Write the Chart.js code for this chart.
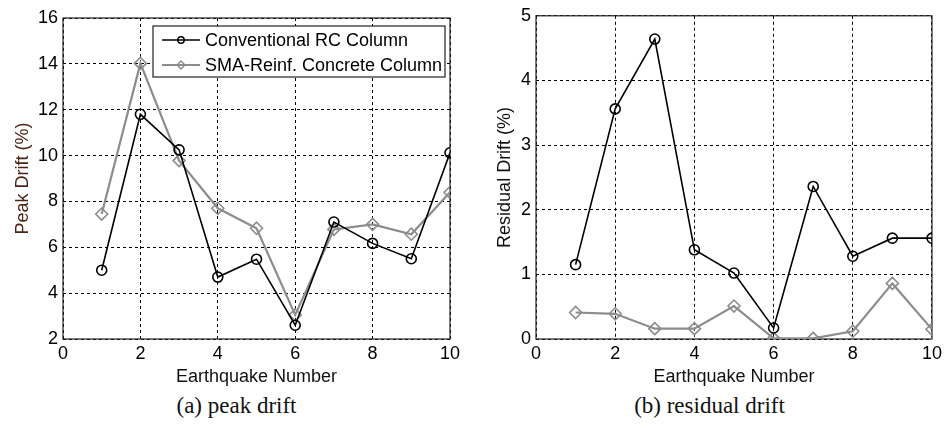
<!DOCTYPE html>
<html>
<head>
<meta charset="utf-8">
<script src="https://cdn.jsdelivr.net/npm/chart.js@4.4.0/dist/chart.umd.min.js"></script>
<style>
  body { margin: 0; background: #fff; }
  #page { position: relative; width: 946px; height: 430px; overflow: hidden; }
  .panel { position: absolute; top: 0; width: 473px; height: 392px; }
  .caption { position: absolute; top: 393px; width: 473px; text-align: center;
             font-family: "Liberation Serif", "Times New Roman", serif; font-size: 23px; color: #111; }
</style>
</head>
<body>
<div id="page">
  <div class="panel" style="left:0"><canvas id="peakChart"></canvas></div>
  <div class="panel" style="left:473px"><canvas id="residualChart"></canvas></div>
  <div class="caption" style="left:0">(a) peak drift</div>
  <div class="caption" style="left:473px">(b) residual drift</div>
</div>
<script>
// Earthquake records 1..10
const quakes = [1, 2, 3, 4, 5, 6, 7, 8, 9, 10];
const xTicks = [0, 2, 4, 6, 8, 10];

// Peak drift (%)
const peakRC = [5.0, 11.8, 10.25, 4.7, 5.48, 2.6, 7.1, 6.17, 5.5, 10.12];
const peakSMA = [7.45, 14.02, 9.78, 7.7, 6.83, 3.05, 6.78, 7.0, 6.57, 8.4];
const peakTicks = [2, 4, 6, 8, 10, 12, 14, 16];

// Residual drift (%)
const residRC = [1.15, 3.56, 4.64, 1.38, 1.02, 0.17, 2.36, 1.28, 1.56, 1.56];
const residSMA = [0.41, 0.39, 0.16, 0.16, 0.51, 0.01, 0.01, 0.12, 0.86, 0.15];
const residTicks = [0, 1, 2, 3, 4, 5];

const seriesNames = ['Conventional RC Column', 'SMA-Reinf. Concrete Column'];

const FONT = '"Liberation Sans", Arial, sans-serif';
const GRAY = '#8c8c8c';

const toPoints = (vals) => quakes.map((q, i) => ({ x: q, y: vals[i] }));

function makeDatasets(rc, sma) {
  return [
    {
      label: seriesNames[0],
      data: toPoints(rc),
      borderColor: '#000',
      borderWidth: 1.6,
      pointStyle: 'circle',
      pointRadius: 5,
      pointBorderWidth: 1.6,
      pointBackgroundColor: 'rgba(0,0,0,0)',
      pointBorderColor: '#000',
      order: 0
    },
    {
      label: seriesNames[1],
      data: toPoints(sma),
      borderColor: GRAY,
      borderWidth: 2.2,
      pointStyle: 'rectRot',
      pointRadius: 6,
      pointBorderWidth: 1.6,
      pointBackgroundColor: 'rgba(0,0,0,0)',
      pointBorderColor: GRAY,
      order: 1
    }
  ];
}

// solid frame around the plot area (MATLAB box on)
const boxPlugin = {
  id: 'plotBox',
  beforeDatasetsDraw(chart) {
    const { ctx, chartArea: a } = chart;
    ctx.save();
    ctx.strokeStyle = '#222';
    ctx.lineWidth = 1.2;
    ctx.setLineDash([]);
    ctx.strokeRect(a.left, a.top, a.right - a.left, a.bottom - a.top);
    ctx.restore();
  }
};

function drawMarker(ctx, style, x, y, r) {
  ctx.beginPath();
  if (style === 'circle') {
    ctx.arc(x, y, r, 0, Math.PI * 2);
  } else {
    ctx.moveTo(x, y - r); ctx.lineTo(x + r, y); ctx.lineTo(x, y + r); ctx.lineTo(x - r, y); ctx.closePath();
  }
  ctx.stroke();
}

// legend box drawn inside the plot, line + marker samples
const insideLegend = {
  id: 'insideLegend',
  afterDraw(chart, args, opts) {
    if (!opts.show) return;
    const { ctx } = chart;
    const bx = opts.x, by = opts.y, bw = opts.w, bh = opts.h;
    ctx.save();
    ctx.fillStyle = '#fff';
    ctx.fillRect(bx, by, bw, bh);
    ctx.strokeStyle = '#222';
    ctx.lineWidth = 1.2;
    ctx.strokeRect(bx, by, bw, bh);
    chart.data.datasets.forEach((ds, i) => {
      const cy = by + 14 + i * 25;
      ctx.strokeStyle = ds.borderColor;
      ctx.lineWidth = ds.borderWidth;
      ctx.beginPath();
      ctx.moveTo(bx + 9, cy); ctx.lineTo(bx + 47, cy);
      ctx.stroke();
      ctx.lineWidth = 1.4;
      drawMarker(ctx, ds.pointStyle, bx + 28, cy, ds.pointStyle === 'circle' ? 3.2 : 4);
      ctx.fillStyle = '#000';
      ctx.font = '18px ' + FONT;
      ctx.textBaseline = 'middle';
      ctx.fillText(ds.label, bx + 52, cy + 1);
    });
    ctx.restore();
  }
};

function makeChart(id, rc, sma, yTicks, yTitle, yTitleColor, pad, legend) {
  const yMin = yTicks[0], yMax = yTicks[yTicks.length - 1];
  return new Chart(document.getElementById(id), {
    type: 'line',
    data: { datasets: makeDatasets(rc, sma) },
    options: {
      responsive: false,
      animation: false,
      devicePixelRatio: 1,
      layout: { padding: pad },
      plugins: {
        legend: { display: false },
        tooltip: { enabled: false },
        insideLegend: legend
      },
      scales: {
        x: {
          type: 'linear',
          min: xTicks[0],
          max: xTicks[xTicks.length - 1],
          afterBuildTicks: (s) => { s.ticks = xTicks.map(v => ({ value: v })); },
          afterFit: (s) => { s.height = 53; },
          grid: { color: '#000', lineWidth: 1, drawTicks: false },
          border: { display: false, dash: [3, 3] },
          ticks: { color: '#000', font: { family: FONT, size: 18 }, padding: 4, maxRotation: 0 },
          title: { display: true, text: 'Earthquake Number', color: '#111', font: { family: FONT, size: 18 }, padding: { top: 0 } }
        },
        y: {
          type: 'linear',
          min: yMin,
          max: yMax,
          afterBuildTicks: (s) => { s.ticks = yTicks.map(v => ({ value: v })); },
          afterFit: (s) => { s.width = 63 - pad.left; },
          grid: { color: '#000', lineWidth: 1, drawTicks: false },
          border: { display: false, dash: [3, 3] },
          ticks: { color: '#000', font: { family: FONT, size: 18 }, padding: 5 },
          title: { display: true, text: yTitle, color: yTitleColor, font: { family: FONT, size: 18 }, padding: { bottom: 0 } }
        }
      }
    },
    plugins: [boxPlugin, insideLegend]
  });
}

function sizeCanvas(id) {
  const c = document.getElementById(id);
  c.width = 473; c.height = 392;
  c.style.width = '473px'; c.style.height = '392px';
}
sizeCanvas('peakChart');
sizeCanvas('residualChart');

makeChart('peakChart', peakRC, peakSMA, peakTicks, 'Peak Drift (%)', '#4a2416',
  { top: 18, right: 23, left: 8, bottom: 0 },
  { show: true, x: 153, y: 26, w: 292, h: 51 });

makeChart('residualChart', residRC, residSMA, residTicks, 'Residual Drift (%)', '#111',
  { top: 13, right: 11, left: 17, bottom: 0 },
  { show: false });
</script>
</body>
</html>
